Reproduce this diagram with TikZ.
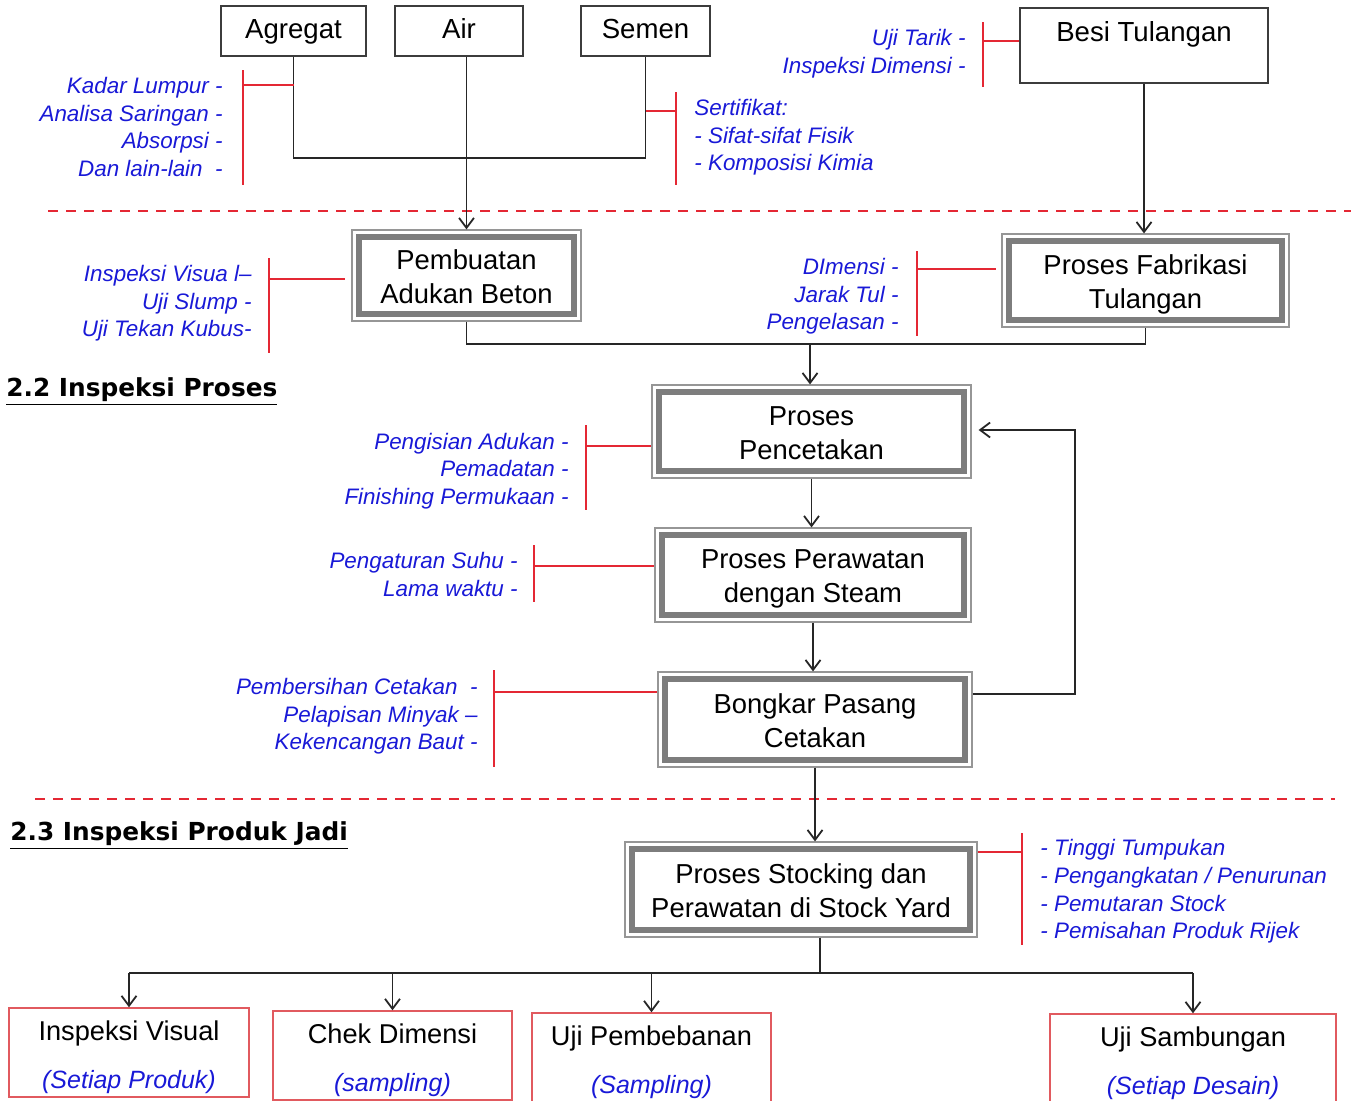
\documentclass[tikz,border=0pt]{standalone}
\usepackage{fontspec}
\setmainfont{Liberation Sans}
\newfontfamily\hdfont{DejaVu Sans}
\usetikzlibrary{arrows.meta,calc}
\definecolor{blueT}{RGB}{25,25,215}
\definecolor{redL}{RGB}{228,40,52}
\definecolor{boxG}{RGB}{60,60,60}
\definecolor{bandG}{RGB}{125,125,125}
\definecolor{edgeG}{RGB}{150,150,150}
\definecolor{pinkL}{RGB}{225,90,95}
\newcommand{\twol}[2]{\raisebox{-2pt}[\height][\depth]{\begin{tabular}{@{}c@{}}#1\\#2\end{tabular}}}
\newcommand{\outl}[2]{\raisebox{-1.75pt}[\height][\depth]{\begin{tabular}{@{}c@{}}#1\\[4pt]{\color{blueT}\itshape\fontsize{12.5}{20}\selectfont #2}\end{tabular}}}
\begin{document}
\begin{tikzpicture}[x=0.5pt,y=-0.5pt,
  topbox/.style={draw=boxG, line width=0.8pt, inner sep=0, text height=10pt, text depth=3pt, font=\fontsize{13.8}{16}\selectfont},
  procbox/.style={draw=edgeG, line width=0.6pt, inner sep=0, font=\fontsize{13.7}{17}\selectfont},
  band/.style={draw=bandG, line width=3.2pt},
  outbox/.style={draw=pinkL, line width=0.7pt, inner sep=0, minimum height=44.5pt, font=\fontsize{13.6}{20}\selectfont},
  note/.style={text=blueT, inner sep=0, font=\fontsize{11.2}{13.8}\selectfont\itshape},
  redl/.style={draw=redL, line width=0.8pt},
  conn/.style={draw=black!85, line width=0.9pt},
  arr/.style={conn, -{Straight Barb[length=5pt,width=7.5pt]}},
  dashl/.style={draw=redL, line width=1pt, dash pattern=on 5pt off 4pt},
  head/.style={anchor=west, inner sep=0, font=\hdfont\bfseries\fontsize{12.4}{14}\selectfont}
]
\useasboundingbox (0,0) rectangle (1351,1100);

% ---------- top boxes
\node[topbox, minimum width=72.5pt, minimum height=25pt] (agr) at (293.5,31) {Agregat};
\node[topbox, minimum width=64pt, minimum height=25pt] (air) at (459,31) {Air};
\node[topbox, minimum width=64.5pt, minimum height=25pt] (sem) at (645.5,31) {Semen};
\node[topbox, minimum width=124pt, minimum height=37.5pt] (besi) at (1144,45.5) {};
\node[inner sep=0, text height=10pt, text depth=3pt, font=\fontsize{13.8}{16}\selectfont] (besit) at (1144,34) {Besi Tulangan};

% ---------- process boxes
\node[procbox, minimum width=114.5pt, minimum height=45.5pt] (pab) at (466.5,275.5) {\twol{Pembuatan}{Adukan Beton}};
\node[procbox, minimum width=143.5pt, minimum height=46.5pt] (pft) at (1145.5,280.5) {\twol{Proses Fabrikasi}{Tulangan}};
\node[procbox, minimum width=159.5pt, minimum height=46.5pt] (pc) at (811.5,431.5) {\twol{Proses}{Pencetakan}};
\node[procbox, minimum width=158pt, minimum height=47pt] (pr) at (813,575) {\twol{Proses Perawatan}{dengan Steam}};
\node[procbox, minimum width=157pt, minimum height=47.5pt] (bp) at (815,719.5) {\twol{Bongkar Pasang}{Cetakan}};
\node[procbox, minimum width=176pt, minimum height=47.5pt] (stk) at (801,889.5) {\twol{Proses Stocking dan}{Perawatan di Stock Yard}};
\foreach \n in {pab,pft,pc,pr,bp,stk}
  \draw[band] ($(\n.south west)+(3.8pt,3.8pt)$) rectangle ($(\n.north east)-(3.8pt,3.8pt)$);

% ---------- bottom boxes
\node[outbox, minimum width=120pt] (iv) at (129,1052.5) {\outl{Inspeksi Visual}{(Setiap Produk)}};
\node[outbox, minimum width=119.5pt] (cd) at (392.5,1055.5) {\outl{Chek Dimensi}{(sampling)}};
\node[outbox, minimum width=119.5pt] (up) at (651.5,1057.5) {\outl{Uji Pembebanan}{(Sampling)}};
\node[outbox, minimum width=143pt] (us) at (1193,1058.5) {\outl{Uji Sambungan}{(Setiap Desain)}};

% ---------- headings
\node[head] (h22) at (6,392) {\underline{2.2 Inspeksi Proses}};
\node[head] (h23) at (10,836) {\underline{2.3 Inspeksi Produk Jadi}};

% ---------- dashed separators
\coordinate (d1a) at (48,211); \coordinate (d1b) at (1351,211);
\coordinate (d2a) at (35,799); \coordinate (d2b) at (1335,799);
\draw[dashl] (d1a) -- (d1b);
\draw[dashl] (d2a) -- (d2b);

% ---------- connectors
\coordinate (j1) at (468,158);
\draw[conn] (agr.south) |- (j1) -| (sem.south);
\draw[arr] (air.south -| pab.north) -- (pab.north);
\draw[arr] (besi.south) -- (besi.south |- pft.north);
\coordinate (j2) at (810,344);
\draw[conn] (pab.south) |- (j2) -| (pft.south);
\draw[arr] (j2) -- (j2 |- pc.north);
\draw[arr] (pc.south) -- (pc.south |- pr.north);
\draw[arr] (pr.south) -- (pr.south |- bp.north);
\draw[arr] (bp.south) -- (bp.south |- stk.north);
\coordinate (fb) at (1075,694);
\coordinate (fbt) at (1075,430);
\draw[arr] (bp.east |- fb) -- (fb) -- (fbt) -- ($(pc.east |- fbt)+(3.5pt,0)$);
\coordinate (j3) at (820,973);
\draw[conn] (stk.south -| j3) -- (j3);
\draw[conn] (iv.north |- j3) -- (us.north |- j3);
\foreach \b in {iv,cd,up,us}
  \draw[arr] (\b.north |- j3) -- (\b.north);

% ---------- red brackets
\coordinate (ra1) at (243,70); \coordinate (ra2) at (243,185); \coordinate (ra3) at (243,85);
\draw[redl] (ra1) -- (ra2); \draw[redl] (ra3) -- (ra3 -| agr.south);
\coordinate (rs1) at (676,92); \coordinate (rs2) at (676,185); \coordinate (rs3) at (676,111);
\draw[redl] (rs1) -- (rs2); \draw[redl] (rs3) -- (rs3 -| sem.south);
\coordinate (rb1) at (983,22); \coordinate (rb2) at (983,87); \coordinate (rb3) at (983,41);
\draw[redl] (rb1) -- (rb2); \draw[redl] (rb3) -- (rb3 -| besi.west);
\coordinate (rp1) at (269,258); \coordinate (rp2) at (269,353); \coordinate (rp3) at (269,279);
\draw[redl] (rp1) -- (rp2); \draw[redl] (rp3) -- ($(rp3 -| pab.west)+(-3pt,0)$);
\coordinate (rf1) at (917,251); \coordinate (rf2) at (917,336); \coordinate (rf3) at (917,269);
\draw[redl] (rf1) -- (rf2); \draw[redl] (rf3) -- ($(rf3 -| pft.west)+(-2.5pt,0)$);
\coordinate (rc1) at (586,425); \coordinate (rc2) at (586,510); \coordinate (rc3) at (586,446);
\draw[redl] (rc1) -- (rc2); \draw[redl] (rc3) -- (rc3 -| pc.west);
\coordinate (rr1) at (534,545); \coordinate (rr2) at (534,602); \coordinate (rr3) at (534,566);
\draw[redl] (rr1) -- (rr2); \draw[redl] (rr3) -- (rr3 -| pr.west);
\coordinate (rk1) at (494,670); \coordinate (rk2) at (494,767); \coordinate (rk3) at (494,692);
\draw[redl] (rk1) -- (rk2); \draw[redl] (rk3) -- (rk3 -| bp.west);
\coordinate (rt1) at (1022,833); \coordinate (rt2) at (1022,945); \coordinate (rt3) at (1022,852);
\draw[redl] (rt1) -- (rt2); \draw[redl] (rt3 -| stk.east) -- (rt3);

% ---------- blue notes
\node[note, anchor=east, align=right] (n1) at (223,127) {Kadar Lumpur -\\Analisa Saringan -\\Absorpsi -\\Dan lain-lain\ \ -};
\node[note, anchor=west, align=left] (n2) at (694,137.5) {Sertifikat:\\- Sifat-sifat Fisik\\- Komposisi Kimia};
\node[note, anchor=east, align=right] (n3) at (966,53.5) {Uji Tarik -\\Inspeksi Dimensi -};
\node[note, anchor=east, align=right] (n4) at (252,303.5) {Inspeksi Visua l–\\Uji Slump -\\Uji Tekan Kubus-};
\node[note, anchor=east, align=right] (n5) at (899,296.5) {DImensi -\\Jarak Tul -\\Pengelasan -};
\node[note, anchor=east, align=right] (n6) at (569,471) {Pengisian Adukan -\\Pemadatan -\\Finishing Permukaan -};
\node[note, anchor=east, align=right] (n7) at (518,574.5) {Pengaturan Suhu -\\Lama waktu -};
\node[note, anchor=east, align=right] (n8) at (478,716.5) {Pembersihan Cetakan\ \ -\\Pelapisan Minyak –\\Kekencangan Baut -};
\node[note, anchor=west, align=left] (n9) at (1040,891.5) {- Tinggi Tumpukan\\- Pengangkatan / Penurunan\\- Pemutaran Stock\\- Pemisahan Produk Rijek};
\end{tikzpicture}
\end{document}
